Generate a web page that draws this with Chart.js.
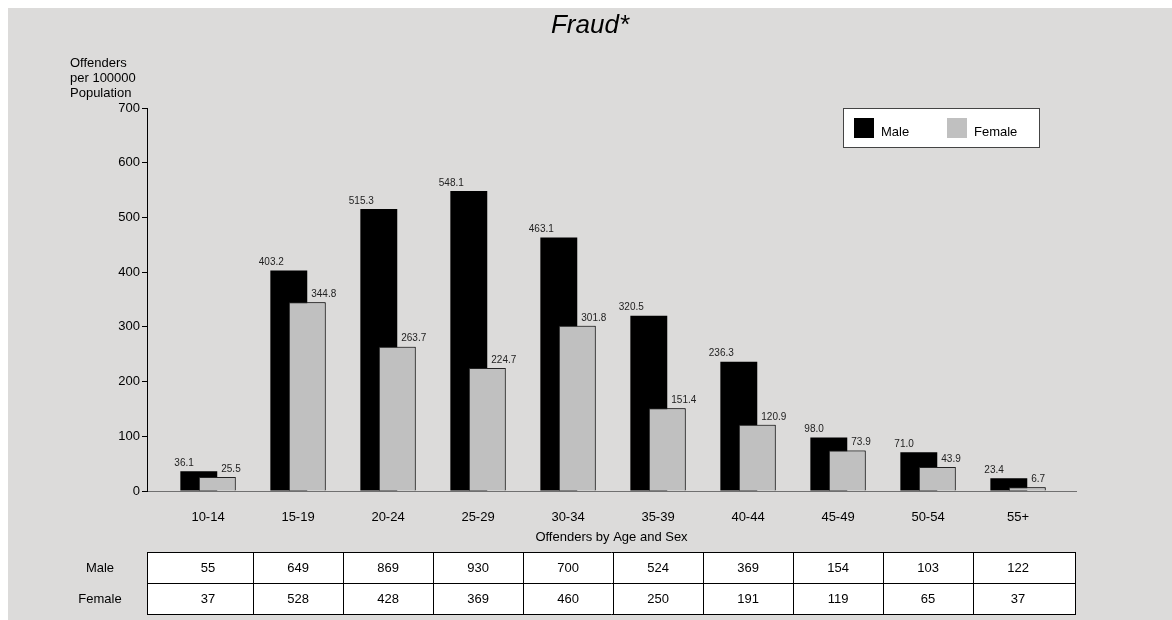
<!DOCTYPE html>
<html>
<head>
<meta charset="utf-8">
<title>Fraud*</title>
<script src="https://cdn.jsdelivr.net/npm/chart.js@4.4.0/dist/chart.umd.min.js"></script>
<style>
  html, body { margin: 0; padding: 0; background: #fff; }
  #wrap { position: absolute; left: 8px; top: 8px; width: 1164px; height: 612px; background: #dcdbda; }
  canvas { display: block; }
</style>
</head>
<body>
<div id="wrap"><canvas id="fraudChart" width="1164" height="612"></canvas></div>
<script>
// Offenders per 100000 population, by age group
const ageGroups = ['10-14', '15-19', '20-24', '25-29', '30-34', '35-39', '40-44', '45-49', '50-54', '55+'];
const maleRates = [36.1, 403.2, 515.3, 548.1, 463.1, 320.5, 236.3, 98.0, 71.0, 23.4];
const femaleRates = [25.5, 344.8, 263.7, 224.7, 301.8, 151.4, 120.9, 73.9, 43.9, 6.7];

// Offender counts shown in the table under the chart
const maleCounts = [55, 649, 869, 930, 700, 524, 369, 154, 103, 122];
const femaleCounts = [37, 528, 428, 369, 460, 250, 191, 119, 65, 37];

const chartTitle = 'Fraud*';
const yAxisTitle = ['Offenders', 'per 100000', 'Population'];

const FONT = 'Arial, "Liberation Sans", Helvetica, sans-serif';
Chart.defaults.font.family = FONT;
Chart.defaults.color = '#000';

// female bars sit on top of the male ones, then the value labels
const overlayPlugin = {
    id: 'overlay',
    afterDatasetsDraw(chart) {
        const ctx = chart.ctx;
        const femaleMeta = chart.getDatasetMeta(1);
        femaleMeta.data.forEach(bar => bar.draw(ctx));

        ctx.save();
        ctx.font = '10px ' + FONT;
        ctx.fillStyle = '#222';
        ctx.textBaseline = 'middle';
        chart.getDatasetMeta(0).data.forEach((bar, i) => {
            ctx.textAlign = 'right';
            ctx.fillText(maleRates[i].toFixed(1), bar.x - 5, bar.y - 8);
        });
        femaleMeta.data.forEach((bar, i) => {
            ctx.textAlign = 'left';
            ctx.fillText(femaleRates[i].toFixed(1), bar.x + 4, bar.y - 8);
        });
        ctx.restore();
    },
    afterDraw(chart) {
        const ctx = chart.ctx;
        const x = chart.scales.x;
        const area = chart.chartArea;
        ctx.save();

        // title
        ctx.font = 'italic 26px ' + FONT;
        ctx.fillStyle = '#000';
        ctx.textAlign = 'center';
        ctx.textBaseline = 'alphabetic';
        ctx.fillText(chartTitle, 582, 25);

        // y axis caption
        ctx.font = '13px ' + FONT;
        ctx.textAlign = 'left';
        ctx.textBaseline = 'middle';
        yAxisTitle.forEach((line, i) => ctx.fillText(line, 62, 55 + i * 15));

        // legend box
        ctx.fillStyle = '#fff';
        ctx.fillRect(835, 100, 196, 39);
        ctx.strokeStyle = '#444';
        ctx.lineWidth = 1;
        ctx.strokeRect(835.5, 100.5, 196, 39);
        ctx.fillStyle = '#000';
        ctx.fillRect(846, 110, 20, 20);
        ctx.fillStyle = '#c0c0c0';
        ctx.fillRect(939, 110, 20, 20);
        ctx.fillStyle = '#000';
        ctx.fillText('Male', 873, 124);
        ctx.fillText('Female', 966, 124);

        // counts table
        const top = 544, mid = 575, bottom = 606;
        const left = area.left, right = area.right;
        ctx.fillStyle = '#fff';
        ctx.fillRect(left, top, right - left, bottom - top);
        ctx.strokeStyle = '#000';
        ctx.beginPath();
        [top, mid, bottom].forEach(y => {
            ctx.moveTo(left, y + 0.5);
            ctx.lineTo(right, y + 0.5);
        });
        ctx.moveTo(left + 0.5, top);
        ctx.lineTo(left + 0.5, bottom);
        ctx.moveTo(right - 0.5, top);
        ctx.lineTo(right - 0.5, bottom);
        for (let i = 1; i < ageGroups.length; i++) {
            const bx = Math.round(x.getPixelForValue(i - 0.5)) + 0.5;
            ctx.moveTo(bx, top);
            ctx.lineTo(bx, bottom);
        }
        ctx.stroke();

        ctx.textAlign = 'center';
        ctx.fillStyle = '#000';
        ctx.fillText('Male', 92, (top + mid) / 2 + 1);
        ctx.fillText('Female', 92, (mid + bottom) / 2 + 1);
        ageGroups.forEach((g, i) => {
            const cx = x.getPixelForValue(i);
            ctx.fillText(String(maleCounts[i]), cx, (top + mid) / 2 + 1);
            ctx.fillText(String(femaleCounts[i]), cx, (mid + bottom) / 2 + 1);
        });
        ctx.restore();
    }
};

const ctx = document.getElementById('fraudChart').getContext('2d');
const fraudChart = new Chart(ctx, {
    type: 'bar',
    data: {
        datasets: [
            {
                label: 'Male',
                data: maleRates.map((v, i) => ({ x: i, y: v })),
                backgroundColor: '#000',
                borderWidth: 0
            },
            {
                label: 'Female',
                data: femaleRates.map((v, i) => ({ x: i, y: v })),
                backgroundColor: '#c0c0c0',
                borderColor: '#222',
                borderWidth: 1
            }
        ]
    },
    options: {
        responsive: false,
        animation: false,
        categoryPercentage: 0.41,
        barPercentage: 2.0,
        layout: {
            padding: { top: 100, left: 0, right: 96, bottom: 75 }
        },
        plugins: {
            legend: { display: false },
            tooltip: { enabled: false },
            title: { display: false }
        },
        scales: {
            x: {
                type: 'linear',
                offset: false,
                min: -0.678,
                max: 9.644,
                afterBuildTicks: scale => {
                    scale.ticks = ageGroups.map((g, i) => ({ value: i }));
                },
                afterFit: scale => { scale.height = 54; },
                grid: { display: false },
                border: { display: true, color: '#707070', width: 1 },
                ticks: {
                    autoSkip: false,
                    maxRotation: 0,
                    padding: 11,
                    font: { size: 13 },
                    callback: value => ageGroups[value]
                },
                title: {
                    display: true,
                    text: 'Offenders by Age and Sex',
                    font: { size: 13 },
                    padding: 0
                }
            },
            y: {
                min: 0,
                max: 700,
                afterFit: scale => { scale.width = 139; },
                grid: {
                    drawOnChartArea: false,
                    drawTicks: true,
                    tickLength: 5,
                    color: '#000'
                },
                border: { display: true, color: '#000', width: 1 },
                ticks: {
                    stepSize: 100,
                    padding: 2,
                    font: { size: 13 }
                }
            }
        }
    },
    plugins: [overlayPlugin]
});
</script>
</body>
</html>
